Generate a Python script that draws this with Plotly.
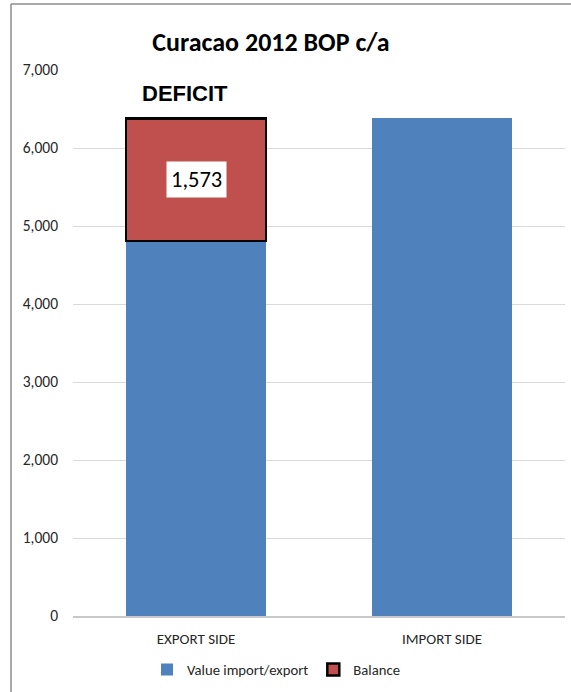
import plotly.graph_objects as go

categories = ["EXPORT SIDE", "IMPORT SIDE"]
value_import_export = [4808, 6381]
balance = [1573, None]
y_ticks = [0, 1000, 2000, 3000, 4000, 5000, 6000, 7000]
title_text = "Curacao 2012 BOP c/a"
deficit_label = "DEFICIT"

FONT = "Carlito, Lato, 'Open Sans', sans-serif"
W, H = 571, 692
L, R, T, B = 73, 6, 70, 76
pw, ph = W - L - R, H - T - B

def px_x(p):
    return (p - L) / pw

def px_y(p):
    return (H - B - p) / ph

fig = go.Figure()
fig.add_trace(go.Bar(
    x=categories, y=value_import_export, name="Value import/export",
    marker=dict(color="#4F81BD", line=dict(width=0)),
))
fig.add_trace(go.Bar(
    x=categories, y=balance, name="Balance",
    marker=dict(color="#C0504D", line=dict(color="black", width=2.5)),
))

# balance data label
fig.add_annotation(
    x=categories[0], y=value_import_export[0] + balance[0] / 2,
    xref="x", yref="y", text=f"{balance[0]:,}", showarrow=False,
    xanchor="center", yanchor="middle",
    font=dict(family=FONT, size=22.5, color="black"),
    bgcolor="white", borderpad=4,
)
fig.add_annotation(
    x=px_x(185), y=px_y(94), xref="paper", yref="paper",
    xanchor="center", yanchor="middle",
    text=f"<b>{deficit_label}</b>", showarrow=False,
    font=dict(family="'Liberation Sans', Arial, sans-serif", size=22, color="black"),
)

# chart-area border (left and top edges visible)
fig.add_shape(
    type="line", xref="paper", yref="paper",
    x0=px_x(11), x1=px_x(11), y0=px_y(700), y1=px_y(4),
    line=dict(color="#8c8c8c", width=1.5),
)
fig.add_shape(
    type="line", xref="paper", yref="paper",
    x0=px_x(11), x1=px_x(640), y0=px_y(4), y1=px_y(4),
    line=dict(color="#8c8c8c", width=1.5),
)

fig.update_layout(
    width=W, height=H,
    margin=dict(l=L, r=R, t=T, b=B),
    paper_bgcolor="white", plot_bgcolor="white",
    barmode="stack", bargap=0.43,
    title=dict(text=f"<b>{title_text}</b>", x=px_x(271), xref="paper",
               y=1 - 42 / H, yanchor="middle", xanchor="center",
               font=dict(family=FONT, size=26, color="black")),
    showlegend=True,
    legend=dict(orientation="h", x=px_x(276), xanchor="center",
                y=px_y(670), yanchor="middle",
                font=dict(family=FONT, size=14.7, color="#262626"),
                traceorder="normal"),
    xaxis=dict(showgrid=False, showline=True, linecolor="#c8c8c8", linewidth=1.5,
               tickfont=dict(family=FONT, size=15, color="#262626"),
               ticklabelstandoff=8),
    yaxis=dict(range=[0, 7000], tickvals=y_ticks, tickformat=",",
               showgrid=True, gridcolor="#d9d9d9", gridwidth=1,
               zeroline=False, showline=False,
               tickfont=dict(family=FONT, size=15.5, color="#262626"),
               ticklabelstandoff=14),
)

fig.write_html("out.html", config={"displayModeBar": False},
               post_script="document.documentElement.style.overflow='hidden';document.body.style.margin='0';document.body.style.padding='0';document.body.style.overflow='hidden';")
